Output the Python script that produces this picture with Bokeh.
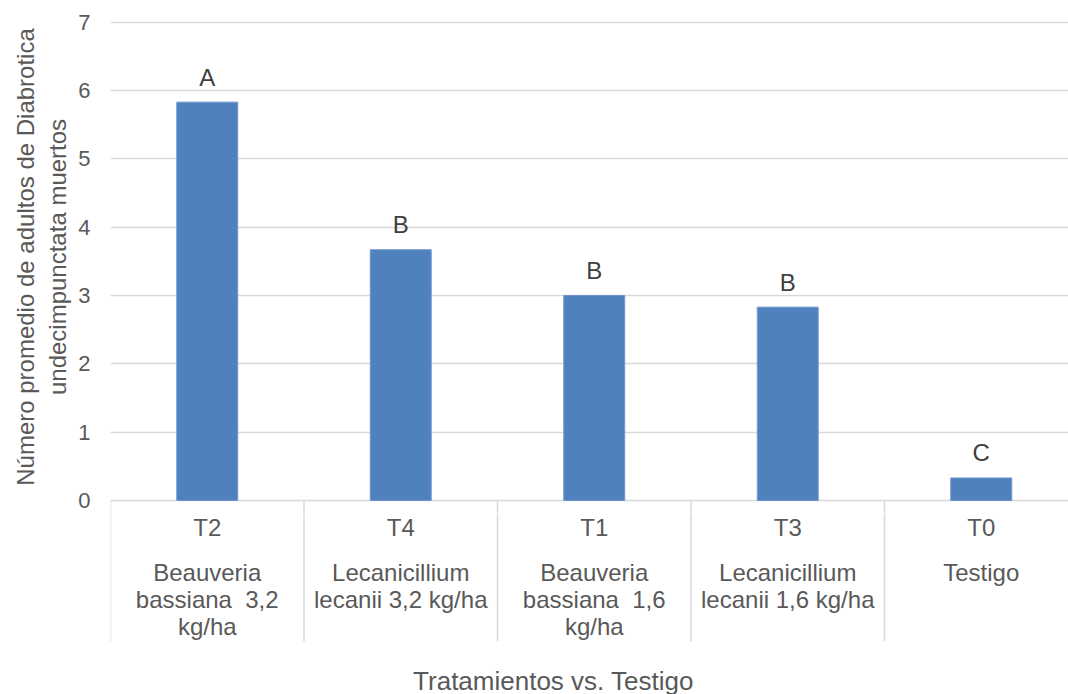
from bokeh.plotting import figure
from bokeh.layouts import column
from bokeh.models import Range1d, FixedTicker, ColumnDataSource
from bokeh.core.properties import value
from bokeh.embed import file_html
from bokeh.resources import INLINE

# ---- data ----
codes = ["T2", "T4", "T1", "T3", "T0"]
names = [
    ["Beauveria", "bassiana \u00a03,2", "kg/ha"],
    ["Lecanicillium", "lecanii 3,2 kg/ha"],
    ["Beauveria", "bassiana \u00a01,6", "kg/ha"],
    ["Lecanicillium", "lecanii 1,6 kg/ha"],
    ["Testigo"],
]
values = [5.83, 3.67, 3.0, 2.83, 0.33]
letters = ["A", "B", "B", "B", "C"]
y_ticks = [0, 1, 2, 3, 4, 5, 6, 7]
y_title = "Número promedio de adultos de Diabrotica\nundecimpunctata muertos"
x_title = "Tratamientos vs. Testigo"

FONT = "Liberation Sans"
GREY = "#595959"
DARK = "#404040"
LINE = "#d9d9d9"
BLUE = "#4f81bd"

n = len(codes)
xs = [i + 0.5 for i in range(n)]
x_end = (1068 - 110) / 193.5

PPU = 68.3          # pixels per unit on the value axis
H1 = 513            # height of the upper canvas
y_end = 7 + 21.7 / PPU
y_start = -(H1 - 500) / PPU

# ---- top: bars ----
p = figure(width=1068, height=H1, output_backend="svg", toolbar_location=None,
           x_range=Range1d(0, x_end), y_range=Range1d(y_start, y_end),
           min_border_left=110, min_border_right=0, min_border_top=0, min_border_bottom=0,
           x_axis_location=None)
p.outline_line_color = None
p.background_fill_color = "white"
p.border_fill_color = "white"
p.xgrid.visible = False
p.ygrid.grid_line_color = LINE
p.ygrid.grid_line_width = 1.5
p.yaxis.ticker = FixedTicker(ticks=y_ticks)
p.yaxis.axis_line_color = None
p.yaxis.major_tick_line_color = None
p.yaxis.minor_tick_line_color = None
p.yaxis.major_label_standoff = 14
p.yaxis.major_label_text_font = FONT
p.yaxis.major_label_text_font_size = "22px"
p.yaxis.major_label_text_color = GREY
p.yaxis.axis_label = y_title
p.yaxis.axis_label_text_font = FONT
p.yaxis.axis_label_text_font_size = "24px"
p.yaxis.axis_label_text_font_style = "normal"
p.yaxis.axis_label_text_color = GREY
p.yaxis.axis_label_standoff = 4

sep_x = [float(i) for i in range(n + 1)]
p.segment(x0=sep_x, y0=[0] * len(sep_x), x1=sep_x, y1=[y_start] * len(sep_x),
          line_color=LINE, line_width=1.5)

src = ColumnDataSource(dict(x=xs, top=values, lab=letters))
p.vbar(x="x", top="top", bottom=0, width=0.315, source=src,
       fill_color=BLUE, line_color="#6f97cc", line_width=1)
p.text(x="x", y="top", text="lab", source=src, y_offset=-25,
       text_align="center", text_baseline="middle",
       text_font=value(FONT), text_font_size="24px", text_color=DARK)

# ---- bottom: category labels (y = pixels below the zero line) ----
q = figure(width=1068, height=694 - H1, output_backend="svg", toolbar_location=None,
           x_range=p.x_range, y_range=Range1d(194, H1 - 500),
           min_border_left=110, min_border_right=0, min_border_top=0, min_border_bottom=0,
           x_axis_location=None, y_axis_location=None)
q.outline_line_color = None
q.grid.visible = False
q.background_fill_color = "white"
q.border_fill_color = "white"

q.segment(x0=sep_x, y0=[H1 - 500] * len(sep_x), x1=sep_x, y1=[141] * len(sep_x),
          line_color=LINE, line_width=1.5)

q.text(x=xs, y=[27] * n, text=codes, text_align="center", text_baseline="middle",
       text_font=value(FONT), text_font_size="24px", text_color=GREY)

lx, ly, lt = [], [], []
for i, lines in enumerate(names):
    for j, t in enumerate(lines):
        lx.append(xs[i])
        ly.append(72 + 27 * j)
        lt.append(t)
q.text(x=lx, y=ly, text=lt, text_align="center", text_baseline="middle",
       text_font=value(FONT), text_font_size="24px", text_color=GREY)

q.text(x=[(553 - 110) / 193.5], y=[180], text=[x_title], text_align="center",
       text_baseline="middle", text_font=value(FONT), text_font_size="26px",
       text_color=GREY)

layout = column(p, q, spacing=0)
open("out.html", "w").write(file_html(layout, INLINE))
